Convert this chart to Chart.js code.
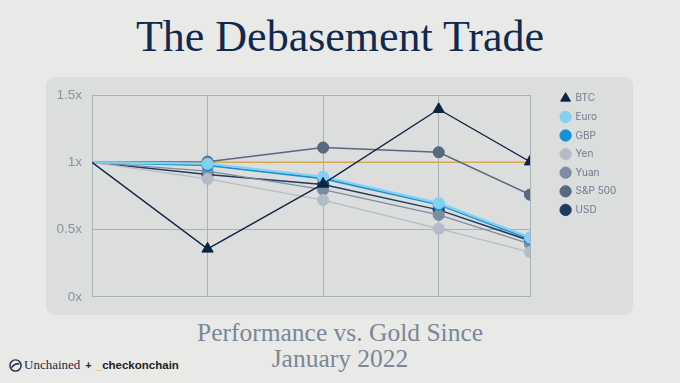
<!DOCTYPE html>
<html><head><meta charset="utf-8">
<script src="https://cdn.jsdelivr.net/npm/chart.js@4/dist/chart.umd.min.js"></script>
<style>
html,body{margin:0;padding:0;width:680px;height:383px;overflow:hidden;background:#e9e9e7;}
#title{position:absolute;left:0;top:11px;width:680px;text-align:center;font-family:"Liberation Serif",serif;font-size:44px;line-height:52px;color:#0e2a4f;white-space:nowrap;}
#panel{position:absolute;left:46px;top:77px;width:587px;height:238px;background:#dcdddd;border-radius:9px;}
#panel canvas{position:absolute;left:0;top:0;}
#sub{position:absolute;left:0;top:320px;width:680px;text-align:center;font-family:"Liberation Serif",serif;font-size:25.5px;line-height:26px;color:#7a8798;}
#logo{position:absolute;left:9px;top:357px;height:16px;display:flex;align-items:center;white-space:nowrap;}
#logo .u{font-family:"Liberation Serif",serif;font-size:13px;color:#1c2b45;margin-left:2px;}
#logo .p{font-family:"Liberation Sans",sans-serif;font-weight:bold;font-size:11px;color:#1c2b45;margin:0 4px 0 5px;}
#logo .c{font-family:"Liberation Sans",sans-serif;font-weight:bold;font-size:11.5px;color:#222;}
#logo .c span{color:#e8a33d;}
</style></head>
<body>
<div id="title">The Debasement Trade</div>
<div id="panel"><canvas id="c" width="587" height="238"></canvas></div>
<div id="sub">Performance vs. Gold Since<br>January 2022</div>
<div id="logo"><svg width="13" height="13" viewBox="0 0 13 13"><circle cx="6.5" cy="6.5" r="5.6" fill="none" stroke="#1c2b45" stroke-width="1.4"/><path d="M2.5 8.5 Q6 4 10.5 5" fill="none" stroke="#1c2b45" stroke-width="1.4"/></svg><span class="u">Unchained</span><span class="p">+</span><span class="c"><span>_</span>checkonchain</span></div>
<script>
// x positions: Jan 2022, Jan 2023, Jan 2024, Jan 2025, latest (~Oct 2025)
const years = [2022, 2023, 2024, 2025, 2025.79];
const yTickLabels = ['0x', '0.5x', '1x', '1.5x'];
const seriesNames = ['BTC', 'Euro', 'GBP', 'Yen', 'Yuan', 'S&P 500', 'USD'];
const btc   = [1, 0.357, 0.84, 1.395, 1.005];
const euro  = [1, 0.99, 0.893, 0.697, 0.442];
const gbp   = [1, 0.978, 0.88, 0.685, 0.43];
const yen   = [1, 0.877, 0.72, 0.507, 0.333];
const yuan  = [1, 0.935, 0.797, 0.61, 0.394];
const sp500 = [1, 1.005, 1.11, 1.075, 0.76];
const usd   = [1, 0.91, 0.836, 0.647, 0.418];
const gold  = [1, 1, 1, 1, 1];

const seriesValues = [btc, euro, gbp, yen, yuan, sp500, usd];
const colors = ['#0b2444', '#82d0f2', '#1691d6', '#b4bdc7', '#7b8ca3', '#57697f', '#1f3b60'];
const widths = [1.3, 2.2, 1.8, 1.3, 1.3, 1.5, 1.5];

const toXY = arr => arr.map((v, i) => ({x: years[i], y: v}));

const datasets = seriesNames.map((name, i) => ({
  label: name,
  data: toXY(seriesValues[i]),
  borderColor: colors[i],
  backgroundColor: colors[i],
  pointBackgroundColor: colors[i],
  pointBorderColor: colors[i],
  pointBorderWidth: 1,
  borderWidth: widths[i],
  pointStyle: i === 0 ? 'triangle' : 'circle',
  pointRadius: function(ctx){ return ctx.dataIndex === 0 ? 0 : (i === 0 ? 6.5 : 5.6); },
  tension: 0
}));
datasets.push({
  label: 'Gold',
  data: toXY(gold),
  borderColor: '#d9a84f',
  backgroundColor: '#d9a84f',
  borderWidth: 1.5,
  pointRadius: 0
});

const gridColor = '#a9b0b8';

const legendPlacer = {
  id: 'legendPlacer',
  beforeLayout(chart) {
    const lg = chart.legend;
    if (lg && !lg._patched) {
      const f = lg.fit;
      lg.fit = function(){ f.call(this); this.width = 103; };
      lg._patched = true;
    }
  },
  afterLayout(chart) {
    const lg = chart.legend;
    const w = lg.width, h = lg.height;
    lg.left = 506; lg.right = 506 + w + 40;
    lg.top = 7.7; lg.bottom = lg.top + h;
  }
};

new Chart(document.getElementById('c'), {
  type: 'line',
  data: { datasets },
  plugins: [legendPlacer],
  options: {
    responsive: false,
    animation: false,
    events: [],
    layout: { padding: { top: 15, bottom: 16, left: 0, right: 0 } },
    plugins: {
      legend: {
        position: 'right',
        align: 'start',
        labels: {
          usePointStyle: true,
          boxHeight: 8,
          padding: 8.6,
          color: '#6f7b8b',
          font: { family: 'Inter, "Liberation Sans", sans-serif', size: 10 },
          filter: item => item.text !== 'Gold'
        }
      },
      tooltip: { enabled: false }
    },
    scales: {
      x: {
        type: 'linear',
        min: years[0],
        max: years[years.length - 1],
        afterBuildTicks: s => { s.ticks = years.map(v => ({ value: v })); },
        ticks: { display: false },
        grid: { color: gridColor, drawTicks: false, lineWidth: 1 },
        border: { color: gridColor },
        afterFit: s => { s.height = 0; }
      },
      y: {
        min: 0, max: 1.5,
        ticks: {
          stepSize: 0.5,
          padding: 10,
          color: '#8a939f',
          font: { family: '"Liberation Sans", sans-serif', size: 13.5 },
          callback: (v, idx) => yTickLabels[idx]
        },
        grid: { color: gridColor, drawTicks: false },
        border: { color: gridColor },
        afterFit: s => { s.width = 46; }
      }
    }
  }
});
</script>
</body></html>
